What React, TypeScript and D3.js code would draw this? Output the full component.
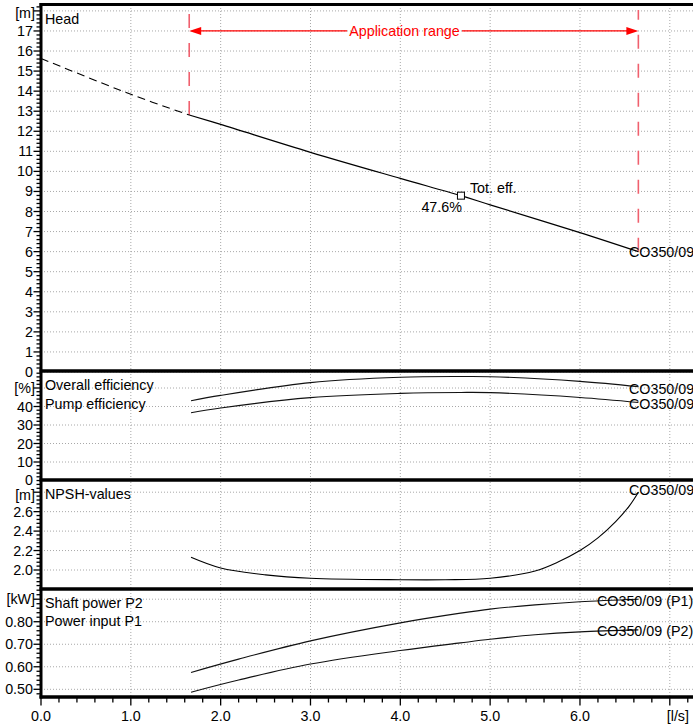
import React from "react";
import * as d3 from "d3";

// ---------- data ----------
const flowHeadDashed = [0, 1.0, 1.65];
const headDashed = [15.63, 13.84, 12.81];
const flowHead = [1.65, 2.0, 3.0, 4.0, 4.675, 5.0, 6.0, 6.65];
const head = [12.81, 12.34, 10.95, 9.65, 8.79, 8.33, 6.95, 6.0];

const flowEff = [1.67, 2.0, 3.0, 4.0, 4.675, 5.0, 6.0, 6.65];
const pumpEff = [43.1, 46.0, 52.9, 55.8, 56.2, 56.1, 53.6, 50.7];
const overallEff = [36.6, 39.2, 44.8, 47.1, 47.6, 47.5, 44.9, 42.2];

const flowNpsh = [1.67, 2.0, 2.5, 3.0, 4.0, 4.5, 5.0, 5.5, 5.75, 6.0, 6.2, 6.4, 6.55, 6.65];
const npsh = [2.13, 2.02, 1.95, 1.915, 1.9, 1.9, 1.915, 1.99, 2.08, 2.2, 2.33, 2.5, 2.66, 2.8];

const flowPower = [1.67, 2.2, 3.0, 4.0, 4.67, 5.0, 5.5, 6.0, 6.65];
const powerP1 = [0.575, 0.634, 0.715, 0.795, 0.838, 0.856, 0.875, 0.889, 0.9];
const powerP2 = [0.487, 0.541, 0.612, 0.672, 0.706, 0.722, 0.742, 0.755, 0.764];

const xTickValues = [0, 1, 2, 3, 4, 5, 6, 7];
const xTickLabels = ["0.0", "1.0", "2.0", "3.0", "4.0", "5.0", "6.0", "[l/s]"];

const appRange = [1.65, 6.65];
const bepFlow = 4.675;
const bepHead = 8.79;
const bepLabel = "47.6%";

const FONT = "'Liberation Sans', Arial, Helvetica, sans-serif";
const FS = 14.3;

export default function App() {
  const W = 693, H = 724;
  const xL = 41, xR = 693;
  const x = d3.scaleLinear().domain([0, 7]).range([41, 669.8]);

  const panels = [
    { key: "head", y: d3.scaleLinear().domain([0, 18]).range([372, 10.9]), top: 4.5, bottom: 371.5,
      step: 1, lo: 0, hi: 18, unit: "[m]", fmt: d3.format("d") },
    { key: "eff", y: d3.scaleLinear().domain([0, 50]).range([480.5, 388]), top: 371.5, bottom: 480,
      step: 10, lo: 0, hi: 50, unit: "[%]", fmt: d3.format("d") },
    { key: "npsh", y: d3.scaleLinear().domain([2.0, 2.8]).range([570, 492.2]), top: 480, bottom: 589,
      step: 0.2, lo: 2.0, hi: 2.8, unit: "[m]", fmt: d3.format(".1f") },
    { key: "pow", y: d3.scaleLinear().domain([0.5, 0.9]).range([689.3, 599.2]), top: 589, bottom: 697,
      step: 0.1, lo: 0.5, hi: 0.9, unit: "[kW]", fmt: d3.format(".2f") },
  ];
  const [pH, pE, pN, pP] = panels;

  const mk = (ys: d3.ScaleLinear<number, number>) =>
    d3.line<[number, number]>().x(d => x(d[0])).y(d => ys(d[1])).curve(d3.curveCatmullRom.alpha(0.5));
  const zip = (a: number[], b: number[]) => a.map((v, i) => [v, b[i]] as [number, number]);

  const gridColor = "#a8a8a8";
  const redDash = "#f0606e";

  const elems: React.ReactNode[] = [];

  // vertical grid
  xTickValues.slice(1).forEach(v => {
    elems.push(<line key={"vg" + v} x1={x(v)} x2={x(v)} y1={5} y2={697} stroke={gridColor} strokeWidth={1} strokeDasharray="1,2" />);
  });

  panels.forEach(p => {
    const nMaj = Math.round((p.hi - p.lo) / p.step);
    const majors = d3.range(0, nMaj + 1).map(i => p.lo + i * p.step);
    majors.forEach(v => {
      elems.push(<line key={p.key + "hg" + v} x1={xL} x2={xR} y1={p.y(v)} y2={p.y(v)} stroke={gridColor} strokeWidth={1} strokeDasharray="1,2" />);
    });
    const minorStep = p.step / 5;
    const dLo = p.y.invert(p.bottom), dHi = p.y.invert(p.top);
    const start = Math.ceil((dLo - 1e-9) / minorStep);
    const end = Math.floor((dHi + 1e-9) / minorStep);
    for (let i = start; i <= end; i++) {
      const v = i * minorStep;
      const isMaj = Math.abs(v / p.step - Math.round(v / p.step)) < 1e-6;
      elems.push(<line key={p.key + "mt" + i} x1={isMaj ? 33.5 : 36.5} x2={xL} y1={p.y(v)} y2={p.y(v)} stroke="#000" strokeWidth={1.3} />);
    }
    majors.forEach((v, i) => {
      const isTop = i === majors.length - 1;
      let yy = p.y(v);
      if (isTop && p.key === "head") yy += 2;
      if (isTop && p.key === "npsh") yy += 2.5;
      if (!isTop && i === 0 && p.key === "eff") yy -= 1;
      elems.push(<text key={p.key + "tl" + v} x={isTop ? 35 : 33} y={yy} dy="0.35em" textAnchor="end" fontSize={FS} fontFamily={FONT}>{isTop ? p.unit : p.fmt(v)}</text>);
    });
  });

  // bottom axis ticks
  d3.range(0, 37).forEach(i => {
    const v = i * 0.2;
    const isMaj = i % 5 === 0;
    elems.push(<line key={"bt" + i} x1={x(v)} x2={x(v)} y1={697} y2={isMaj ? 705.5 : 702.5} stroke="#000" strokeWidth={1.3} />);
  });
  xTickValues.forEach((v, i) => {
    const last = i === xTickValues.length - 1;
    elems.push(<text key={"xl" + v} x={last ? 689 : x(v)} y={716} dy="0.35em" textAnchor={last ? "end" : "middle"} fontSize={FS} fontFamily={FONT}>{xTickLabels[i]}</text>);
  });

  // application range (red dashed)
  const headEndLeft = pH.y(head[0]);
  const headEndRight = pH.y(head[head.length - 1]);
  elems.push(<path key="rd1" d={`M${x(appRange[0])},${headEndLeft}V12`} stroke={redDash} strokeWidth={1.6} strokeDasharray="14,15" fill="none" />);
  elems.push(<path key="rd2" d={`M${x(appRange[1])},${headEndRight}V10`} stroke={redDash} strokeWidth={1.6} strokeDasharray="14,15" fill="none" />);
  const ay = pH.y(17);
  const ax1 = x(appRange[0]), ax2 = x(appRange[1]);
  elems.push(<line key="ar1" x1={ax1 + 8} x2={347} y1={ay} y2={ay} stroke="#ff0000" strokeWidth={1.3} />);
  elems.push(<line key="ar2" x1={462} x2={ax2 - 8} y1={ay} y2={ay} stroke="#ff0000" strokeWidth={1.3} />);
  elems.push(<path key="ah1" d={`M${ax1},${ay}L${ax1 + 12},${ay - 4}L${ax1 + 12},${ay + 4}Z`} fill="#ff0000" />);
  elems.push(<path key="ah2" d={`M${ax2},${ay}L${ax2 - 12},${ay - 4}L${ax2 - 12},${ay + 4}Z`} fill="#ff0000" />);
  elems.push(<text key="art" x={(347 + 462) / 2} y={ay} dy="0.35em" textAnchor="middle" fill="#ff0000" fontSize={FS} fontFamily={FONT}>Application range</text>);

  // curves
  const hl = mk(pH.y);
  elems.push(<path key="hd" d={hl(zip(flowHeadDashed, headDashed)) || ""} stroke="#000" strokeWidth={1.1} fill="none" strokeDasharray="8,5" />);
  elems.push(<path key="hs" d={hl(zip(flowHead, head)) || ""} stroke="#000" strokeWidth={1.2} fill="none" />);
  const el = mk(pE.y);
  elems.push(<path key="e1" d={el(zip(flowEff, pumpEff)) || ""} stroke="#111" strokeWidth={1.1} fill="none" />);
  elems.push(<path key="e2" d={el(zip(flowEff, overallEff)) || ""} stroke="#111" strokeWidth={1.1} fill="none" />);
  const nl = mk(pN.y);
  elems.push(<path key="n1" d={nl(zip(flowNpsh, npsh)) || ""} stroke="#000" strokeWidth={1.1} fill="none" />);
  const pl = mk(pP.y);
  elems.push(<path key="p1" d={pl(zip(flowPower, powerP1)) || ""} stroke="#111" strokeWidth={1.1} fill="none" />);
  elems.push(<path key="p2" d={pl(zip(flowPower, powerP2)) || ""} stroke="#111" strokeWidth={1.1} fill="none" />);

  // BEP marker
  const bx = x(bepFlow), by = pH.y(bepHead);
  elems.push(<rect key="bep" x={bx - 3.5} y={by - 3.5} width={7} height={7} fill="#fff" stroke="#000" strokeWidth={1} />);
  elems.push(<text key="bept" x={bx + 9} y={by - 8} dy="0.35em" fontSize={FS} fontFamily={FONT}>Tot. eff.</text>);
  elems.push(<text key="bepv" x={bx + 1} y={by + 11} dy="0.35em" textAnchor="end" fontSize={FS} fontFamily={FONT}>{bepLabel}</text>);

  // curve labels
  const lab = (k: string, xx: number, yy: number, s: string) =>
    elems.push(<text key={k} x={xx} y={yy} dy="0.35em" fontSize={FS} fontFamily={FONT}>{s}</text>);
  lab("lh", 629, headEndRight, "CO350/09");
  lab("le1", 629, pE.y(pumpEff[pumpEff.length - 1]) + 2, "CO350/09");
  lab("le2", 629, pE.y(overallEff[overallEff.length - 1]) + 1.5, "CO350/09");
  lab("ln", 629, pN.y(npsh[npsh.length - 1]) - 2, "CO350/09");
  lab("lp1", 597, pP.y(powerP1[powerP1.length - 1]) + 1.5, "CO350/09 (P1)");
  lab("lp2", 597, pP.y(powerP2[powerP2.length - 1]) + 1, "CO350/09 (P2)");

  // panel titles
  lab("th", 45, 18.5, "Head");
  lab("te1", 45, 385, "Overall efficiency");
  lab("te2", 45, 403.5, "Pump efficiency");
  lab("tn", 45, 494, "NPSH-values");
  lab("tp1", 45, 603, "Shaft power P2");
  lab("tp2", 45, 621, "Power input P1");

  // panel borders & left axis
  [4.5, 371, 480, 589, 697].forEach((yy, i) => {
    elems.push(<line key={"bd" + i} x1={xL - 1.5} x2={xR} y1={yy} y2={yy} stroke="#000" strokeWidth={i === 0 ? 3 : 3.5} />);
  });
  elems.push(<line key="yax" x1={xL} x2={xL} y1={3} y2={698.5} stroke="#000" strokeWidth={3} />);

  return (
    <svg width={W} height={H} viewBox={`0 0 ${W} ${H}`} style={{ position: "absolute", left: 0, top: 0, background: "#fff" }}>
      <rect x={0} y={0} width={W} height={H} fill="#fff" />
      {elems}
    </svg>
  );
}
